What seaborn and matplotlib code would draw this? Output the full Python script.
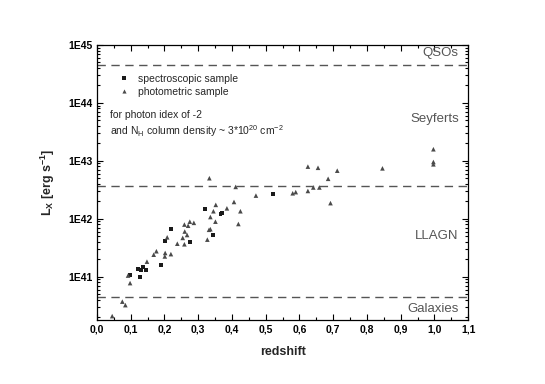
import numpy as np
import pandas as pd
import seaborn as sns
import matplotlib.pyplot as plt
from matplotlib.ticker import LogLocator, FixedLocator, MultipleLocator, FuncFormatter

# spectroscopic sample (redshift, log Lx)
spec_z = [0.521, 0.366, 0.371, 0.320, 0.345, 0.276, 0.219, 0.202, 0.189,
          0.135, 0.122, 0.130, 0.145, 0.127, 0.098]
spec_logL = [42.43, 42.09, 42.10, 42.17, 41.72, 41.60, 41.83, 41.61, 41.21,
             41.17, 41.13, 41.11, 41.11, 41.00, 41.03]

# photometric sample (redshift, log Lx)
phot_z = [0.333, 0.411, 0.625, 0.625, 0.580, 0.589, 0.471, 0.406, 0.352, 0.385,
          0.345, 0.425, 0.336, 0.351, 0.419, 0.332, 0.336, 0.327, 0.287, 0.275,
          0.259, 0.260, 0.270, 0.267, 0.254, 0.238, 0.259, 0.208, 0.219, 0.202,
          0.201, 0.176, 0.168, 0.148, 0.092, 0.098, 0.075, 0.084, 0.045, 0.655,
          0.712, 0.685, 0.641, 0.659, 0.692, 0.846, 0.997, 0.997, 0.997]
phot_logL = [42.70, 42.55, 42.90, 42.48, 42.44, 42.46, 42.40, 42.29, 42.24, 42.18,
             42.13, 42.13, 42.03, 41.95, 41.91, 41.81, 41.82, 41.64, 41.93, 41.95,
             41.90, 41.78, 41.88, 41.72, 41.67, 41.57, 41.56, 41.68, 41.39, 41.41,
             41.35, 41.44, 41.38, 41.26, 41.02, 40.89, 40.57, 40.51, 40.32, 42.88,
             42.83, 42.69, 42.54, 42.54, 42.27, 42.87, 43.20, 42.98, 42.94]

# class boundaries
bounds = [4.5e40, 3.7e42, 4.5e44]
class_names = ["QSOs", "Seyferts", "LLAGN", "Galaxies"]
class_y = [7.2e44, 5.2e43, 5.1e41, 2.75e40]

df = pd.DataFrame({
    "z": spec_z + phot_z,
    "L": 10 ** np.array(spec_logL + phot_logL),
    "sample": ["spectroscopic sample"] * len(spec_z) + ["photometric sample"] * len(phot_z),
})

sns.set_style("ticks")
plt.rcParams["font.family"] = ["Liberation Sans", "DejaVu Sans"]

fig = plt.figure(figsize=(5.45, 3.84), dpi=100)
ax = fig.add_axes([0.178, 0.167, 0.681, 0.716])

sns.scatterplot(data=df, x="z", y="L", hue="sample", style="sample", size="sample",
                markers={"spectroscopic sample": "s", "photometric sample": "^"},
                palette={"spectroscopic sample": "#1a1a1a", "photometric sample": "#4a4a4a"},
                sizes={"spectroscopic sample": 8, "photometric sample": 11},
                linewidth=0, ax=ax)

for b in bounds:
    ax.axhline(b, color="#555555", lw=1, dashes=(6, 4))

for name, yv in zip(class_names, class_y):
    ax.text(1.072, yv, name, ha="right", va="center", color="#555555", fontsize=9.5)

ax.set_yscale("log")
ax.set_xlim(0, 1.1)
ax.set_ylim(1.8e40, 1e45)

ax.xaxis.set_major_locator(MultipleLocator(0.1))
ax.xaxis.set_minor_locator(MultipleLocator(0.05))
ax.xaxis.set_major_formatter(FuncFormatter(lambda v, p: f"{v:.1f}".replace(".", ",")))
ax.yaxis.set_major_locator(FixedLocator([1e41, 1e42, 1e43, 1e44, 1e45]))
ax.yaxis.set_minor_locator(LogLocator(base=10, subs=np.arange(2, 10), numticks=20))
ax.yaxis.set_major_formatter(FuncFormatter(lambda v, p: f"1E{int(round(np.log10(v)))}"))

ax.tick_params(which="both", direction="in", top=True, right=True, width=0.8, colors="black")
ax.tick_params(which="major", length=4, labelsize=7.5)
ax.tick_params(which="minor", length=2)
for lab in ax.get_xticklabels() + ax.get_yticklabels():
    lab.set_fontweight("bold")
for sp in ax.spines.values():
    sp.set_linewidth(0.9)
    sp.set_color("black")

ax.set_xlabel("redshift", fontsize=9, fontweight="bold", labelpad=8)
ax.set_ylabel(r"L$_\mathregular{X}$ [erg s$^\mathregular{-1}$]", fontsize=9, fontweight="bold", labelpad=8)

ax.legend(loc="upper left", bbox_to_anchor=(0.02, 0.93), frameon=False, fontsize=7.5,
          handletextpad=0.3, labelspacing=0.3, markerscale=0.9)

ax.text(0.035, 0.745, "for photon idex of -2", transform=ax.transAxes, fontsize=7.5, va="center")
ax.text(0.035, 0.685, r"and N$_\mathregular{H}$ column density ~ 3*10$^\mathregular{20}$ cm$^\mathregular{-2}$",
        transform=ax.transAxes, fontsize=7.5, va="center")

fig.savefig("out.png", dpi=100)
